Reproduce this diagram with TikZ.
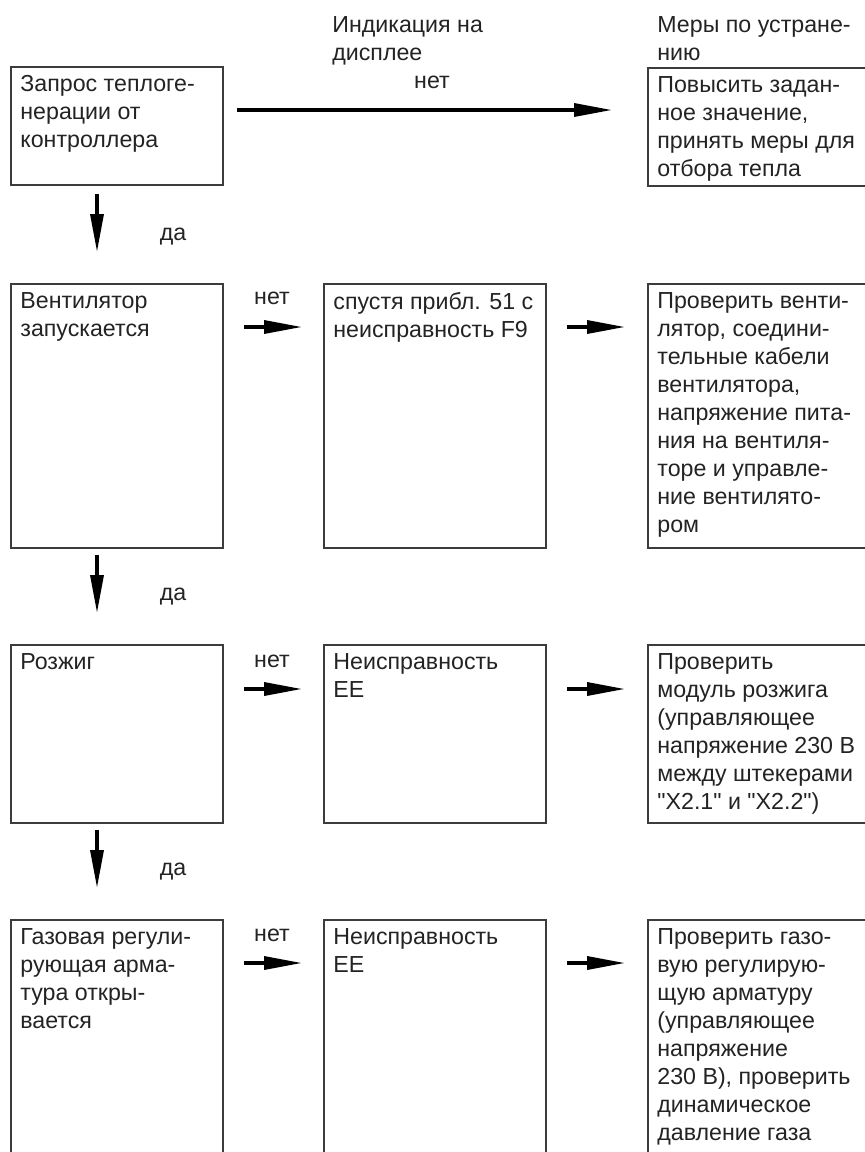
\documentclass[tikz,border=0pt]{standalone}
\usepackage{fontspec}
\setmainfont{Liberation Sans}[Ligatures=TeXOff]
\usepackage{tikz}
\usetikzlibrary{calc, arrows.meta, positioning}
\definecolor{boxline}{RGB}{60,60,60}
\definecolor{textcol}{RGB}{35,35,35}
\tikzstyle{frame} =[draw=boxline, line width=1pt, anchor=north west, inner sep=0pt, minimum width=106pt]
\tikzstyle{activity} =[align=left, anchor=north west, inner xsep=5pt, inner ysep=4.5pt, text=textcol, font=\fontsize{11.6}{14}\selectfont]
\tikzstyle{heading} =[activity, inner sep=0pt]
\tikzstyle{answer} =[text=textcol, inner sep=0pt, font=\fontsize{11.6}{14}\selectfont]
\tikzstyle{flow} =[line width=1.7pt, black, -{Triangle[length=19pt,width=6.5pt]}]

\begin{document}
\begin{tikzpicture}[x=0.5pt, y=-0.5pt]
        \useasboundingbox (0,0) rectangle (865,1152);
        \clip (0,0) rectangle (865,1152);

        % Headings
        \node[heading] (hdisp) at (332,16) {Индикация на\\дисплее};
        \node[heading] (hfix) at (657,16) {Меры по устране-\\нию};

        %% Frames
        \node[frame, minimum height=59pt] (req) at (10,66) {};
        \node[frame, minimum height=59pt, minimum width=120pt] (fix1) at (647,67) {};

        \node[frame, minimum height=132pt] (fan) at (10,283) {};
        \node[frame, minimum height=132pt, minimum width=111pt] (err2) at (323,283) {};
        \node[frame, minimum height=132pt, minimum width=120pt] (fix2) at (647,283) {};

        \node[frame, minimum height=89pt] (ign) at (10,644) {};
        \node[frame, minimum height=89pt, minimum width=111pt] (err3) at (323,644) {};
        \node[frame, minimum height=89pt, minimum width=120pt] (fix3) at (647,644) {};

        \node[frame, minimum height=140pt] (gas) at (10,919) {};
        \node[frame, minimum height=140pt, minimum width=111pt] (err4) at (323,919) {};
        \node[frame, minimum height=140pt, minimum width=120pt] (fix4) at (647,919) {};

        %% Texts
        \node[activity] (req-t) at (req.north west) {Запрос теплоге-\\нерации от\\контроллера};
        \node[activity] (fix1-t) at (fix1.north west) {Повысить задан-\\ное значение,\\принять меры для\\отбора тепла};

        \node[activity] (fan-t) at (fan.north west) {Вентилятор\\запускается};
        \node[activity] (err2-t) at (err2.north west) {спустя прибл. 51 с\\неисправность F9};
        \node[activity] (fix2-t) at (fix2.north west) {Проверить венти-\\лятор, соедини-\\тельные кабели\\вентилятора,\\напряжение пита-\\ния на вентиля-\\торе и управле-\\ние вентилято-\\ром};

        \node[activity] (ign-t) at (ign.north west) {Розжиг};
        \node[activity] (err3-t) at (err3.north west) {Неисправность\\EE};
        \node[activity] (fix3-t) at (fix3.north west) {Проверить\\модуль розжига\\(управляющее\\напряжение 230 В\\между штекерами\\"X2.1" и "X2.2")};

        \node[activity] (gas-t) at (gas.north west) {Газовая регули-\\рующая арма-\\тура откры-\\вается};
        \node[activity] (err4-t) at (err4.north west) {Неисправность\\EE};
        \node[activity] (fix4-t) at (fix4.north west) {Проверить газо-\\вую регулирую-\\щую арматуру\\(управляющее\\напряжение\\230 В), проверить\\динамическое\\давление газа};

        %% Arrow levels
        \coordinate (lvl1) at (0,110);
        \coordinate (lvl2) at (0,327);
        \coordinate (lvl3) at (0,689);
        \coordinate (lvl4) at (0,963);
        \coordinate (col) at (97,0);

        % No
        \draw[flow, shorten <=6.5pt, shorten >=17.5pt] (req.east |- lvl1) -- (fix1.west |- lvl1);
        \node[answer] (no1) at (432,82) {нет};
        \foreach \r in {2,3,4} {
                \draw[flow, shorten <=10pt, shorten >=10.5pt] (\ifcase\r\or\or fan\or ign\or gas\fi.east |- lvl\r) -- (err\r.west |- lvl\r);
                \draw[flow, shorten <=10pt, shorten >=11pt] (err\r.east |- lvl\r) -- (fix\r.west |- lvl\r);
            }
        \node[answer] (no2) at (272,298) {нет};
        \node[answer] (no3) at (272,661) {нет};
        \node[answer] (no4) at (272,935) {нет};

        % Yes
        \draw[flow, shorten <=4pt, shorten >=15.5pt] (req.south -| col) -- (fan.north -| col);
        \draw[flow, shorten <=3pt, shorten >=15.5pt] (fan.south -| col) -- (ign.north -| col);
        \draw[flow, shorten <=3pt, shorten >=15.5pt] (ign.south -| col) -- (gas.north -| col);
        \node[answer] (yes1) at (173,237) {да};
        \node[answer] (yes2) at (173,597) {да};
        \node[answer] (yes3) at (173,872) {да};

    \end{tikzpicture}
\end{document}
